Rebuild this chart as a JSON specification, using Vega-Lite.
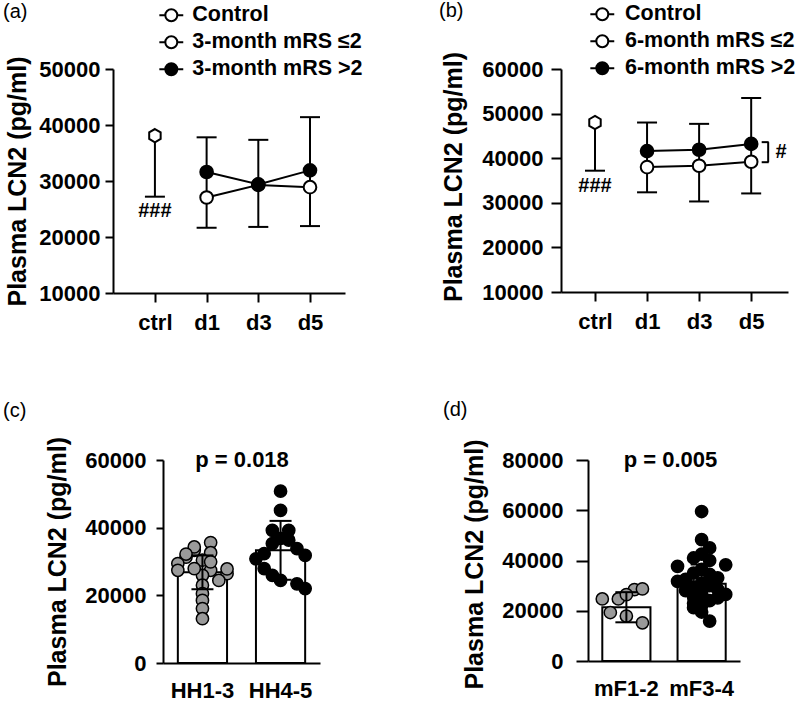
{
  "$schema": "https://vega.github.io/schema/vega-lite/v6.json",
  "background": "white",
  "padding": {"left": 3, "top": 0, "right": 0, "bottom": 0},
  "datasets": {
    "a_means": [
      {"group": "Control", "day": "ctrl", "mean": 38100, "err": 27200},
      {"group": "3-month mRS ≤2", "day": "d1", "mean": 27050, "err": 21650},
      {"group": "3-month mRS ≤2", "day": "d3", "mean": 29300, "err": 21800},
      {"group": "3-month mRS ≤2", "day": "d5", "mean": 28900, "err": 21950},
      {"group": "3-month mRS >2", "day": "d1", "mean": 31600, "err": 37800},
      {"group": "3-month mRS >2", "day": "d3", "mean": 29400, "err": 37350},
      {"group": "3-month mRS >2", "day": "d5", "mean": 31900, "err": 41400}
    ],
    "b_means": [
      {"group": "Control", "day": "ctrl", "mean": 48000, "err": 37200},
      {"group": "6-month mRS ≤2", "day": "d1", "mean": 38000, "err": 32350},
      {"group": "6-month mRS ≤2", "day": "d3", "mean": 38300, "err": 30300},
      {"group": "6-month mRS ≤2", "day": "d5", "mean": 39200, "err": 32100},
      {"group": "6-month mRS >2", "day": "d1", "mean": 41600, "err": 48000},
      {"group": "6-month mRS >2", "day": "d3", "mean": 41900, "err": 47700},
      {"group": "6-month mRS >2", "day": "d5", "mean": 43200, "err": 53500}
    ],
    "c_bars": [
      {"grade": "HH1-3", "mean": 26800, "lower": 21800, "upper": 31800},
      {"grade": "HH4-5", "mean": 33300, "lower": 24600, "upper": 42000}
    ],
    "c_points": [
      {"grade": "HH1-3", "value": 35600, "col": 1},
      {"grade": "HH1-3", "value": 32600, "col": 1},
      {"grade": "HH1-3", "value": 33300, "col": -1},
      {"grade": "HH1-3", "value": 31300, "col": -2},
      {"grade": "HH1-3", "value": 29400, "col": -3},
      {"grade": "HH1-3", "value": 27400, "col": -3},
      {"grade": "HH1-3", "value": 30400, "col": 0},
      {"grade": "HH1-3", "value": 27400, "col": 1},
      {"grade": "HH1-3", "value": 26400, "col": 3},
      {"grade": "HH1-3", "value": 24400, "col": 2},
      {"grade": "HH1-3", "value": 25900, "col": 0},
      {"grade": "HH1-3", "value": 27900, "col": -1},
      {"grade": "HH1-3", "value": 23000, "col": 0},
      {"grade": "HH1-3", "value": 20500, "col": 0},
      {"grade": "HH1-3", "value": 18500, "col": 0},
      {"grade": "HH1-3", "value": 16100, "col": 0},
      {"grade": "HH1-3", "value": 13100, "col": 0},
      {"grade": "HH1-3", "value": 34300, "col": -1},
      {"grade": "HH1-3", "value": 29900, "col": 1},
      {"grade": "HH1-3", "value": 27800, "col": 3},
      {"grade": "HH1-3", "value": 32200, "col": -2},
      {"grade": "HH4-5", "value": 50800, "col": 0},
      {"grade": "HH4-5", "value": 45100, "col": 0},
      {"grade": "HH4-5", "value": 39200, "col": -1},
      {"grade": "HH4-5", "value": 39200, "col": 1},
      {"grade": "HH4-5", "value": 35300, "col": -1},
      {"grade": "HH4-5", "value": 36300, "col": 1},
      {"grade": "HH4-5", "value": 33800, "col": 2},
      {"grade": "HH4-5", "value": 31800, "col": 3},
      {"grade": "HH4-5", "value": 30800, "col": -3},
      {"grade": "HH4-5", "value": 27900, "col": -2},
      {"grade": "HH4-5", "value": 25900, "col": -1},
      {"grade": "HH4-5", "value": 24400, "col": 0},
      {"grade": "HH4-5", "value": 23400, "col": 2},
      {"grade": "HH4-5", "value": 22000, "col": 3},
      {"grade": "HH4-5", "value": 32300, "col": -2},
      {"grade": "HH4-5", "value": 36800, "col": 0}
    ],
    "d_bars": [
      {"fisher": "mF1-2", "mean": 21400, "lower": 15400, "upper": 27400},
      {"fisher": "mF3-4", "mean": 30700, "lower": 23000, "upper": 38400}
    ],
    "d_points": [
      {"fisher": "mF1-2", "value": 24700, "col": -3},
      {"fisher": "mF1-2", "value": 24700, "col": -1},
      {"fisher": "mF1-2", "value": 28400, "col": 1},
      {"fisher": "mF1-2", "value": 28700, "col": 2},
      {"fisher": "mF1-2", "value": 19300, "col": -2},
      {"fisher": "mF1-2", "value": 17900, "col": 0},
      {"fisher": "mF1-2", "value": 15200, "col": 2},
      {"fisher": "mF1-2", "value": 26400, "col": 0},
      {"fisher": "mF3-4", "value": 59500, "col": 0},
      {"fisher": "mF3-4", "value": 48300, "col": 0},
      {"fisher": "mF3-4", "value": 45000, "col": 1},
      {"fisher": "mF3-4", "value": 42500, "col": 0},
      {"fisher": "mF3-4", "value": 41000, "col": -1},
      {"fisher": "mF3-4", "value": 40000, "col": 1},
      {"fisher": "mF3-4", "value": 38300, "col": 3},
      {"fisher": "mF3-4", "value": 37700, "col": -3},
      {"fisher": "mF3-4", "value": 36500, "col": 0},
      {"fisher": "mF3-4", "value": 35000, "col": -1},
      {"fisher": "mF3-4", "value": 34500, "col": 1},
      {"fisher": "mF3-4", "value": 33100, "col": 2},
      {"fisher": "mF3-4", "value": 32500, "col": -2},
      {"fisher": "mF3-4", "value": 31700, "col": -3},
      {"fisher": "mF3-4", "value": 31000, "col": 0},
      {"fisher": "mF3-4", "value": 30000, "col": 1},
      {"fisher": "mF3-4", "value": 29500, "col": -1},
      {"fisher": "mF3-4", "value": 28500, "col": 2},
      {"fisher": "mF3-4", "value": 28000, "col": -2},
      {"fisher": "mF3-4", "value": 27000, "col": 0},
      {"fisher": "mF3-4", "value": 26500, "col": 3},
      {"fisher": "mF3-4", "value": 25500, "col": -1},
      {"fisher": "mF3-4", "value": 25100, "col": 2},
      {"fisher": "mF3-4", "value": 24000, "col": 1},
      {"fisher": "mF3-4", "value": 23000, "col": -1},
      {"fisher": "mF3-4", "value": 22000, "col": 0},
      {"fisher": "mF3-4", "value": 21200, "col": -1},
      {"fisher": "mF3-4", "value": 19500, "col": 0},
      {"fisher": "mF3-4", "value": 15900, "col": 1}
    ]
  },
  "columns": 1,
  "align": "none",
  "spacing": 66,
  "resolve": {"scale": {"fill": "independent", "shape": "independent", "xOffset": "independent"}, "legend": {"fill": "independent"}},
  "concat": [
    {
      "spacing": 75,
      "resolve": {"scale": {"fill": "independent", "shape": "independent", "xOffset": "independent"}, "legend": {"fill": "independent"}},
      "hconcat": [
        {
          "width": 232,
          "height": 224,
          "title": {"text": "(a)", "dx": -110, "dy": 31, "offset": 0, "baseline": "middle"},
          "data": {"name": "a_means"},
          "encoding": {
            "x": {"field": "day", "type": "ordinal",
              "scale": {"type": "point", "domain": ["ctrl", "d1", "d3", "d5"], "padding": 0.744, "align": 0.545},
              "axis": {"title": null, "labelAngle": 0, "tickSize": 9, "labelPadding": 10}}
          },
          "layer": [
            {
              "mark": {"type": "rule", "color": "black", "strokeWidth": 2},
              "encoding": {
                "y": {"aggregate": "min", "field": "mean", "type": "quantitative", "title": "Plasma LCN2 (pg/ml)",
                  "scale": {"domain": [10000, 50000], "nice": false},
                  "axis": {"values": [10000, 20000, 30000, 40000, 50000], "format": "d", "tickSize": 8, "labelPadding": 5, "titleX": -95.7, "titleY": 112, "titleBaseline": "middle"}},
                "y2": {"aggregate": "max", "field": "mean"}
              }
            },
            {
              "mark": {"type": "rule", "color": "black", "strokeWidth": 2},
              "encoding": {
                "y": {"field": "mean", "type": "quantitative", "title": "Plasma LCN2 (pg/ml)"},
                "y2": {"field": "err"}
              }
            },
            {
              "mark": {"type": "tick", "color": "black", "size": 20, "thickness": 2, "opacity": 1},
              "encoding": {"y": {"field": "err", "type": "quantitative", "title": "Plasma LCN2 (pg/ml)"}}
            },
            {
              "transform": [{"filter": "datum.group != 'Control'"}],
              "mark": {"type": "line", "color": "black", "strokeWidth": 2},
              "encoding": {
                "y": {"field": "mean", "type": "quantitative", "title": "Plasma LCN2 (pg/ml)"},
                "detail": {"field": "group"}
              }
            },
            {
              "transform": [{"filter": "datum.group == 'Control'"}],
              "mark": {"type": "point", "filled": true, "shape": "M0,-1L0.866,-0.5L0.866,0.5L0,1L-0.866,0.5L-0.866,-0.5Z", "stroke": "black", "strokeWidth": 2, "size": 175, "opacity": 1},
              "encoding": {
                "y": {"field": "mean", "type": "quantitative", "title": "Plasma LCN2 (pg/ml)"},
                "fill": {"field": "group", "type": "nominal",
                  "scale": {"domain": ["Control", "3-month mRS ≤2", "3-month mRS >2"], "range": ["white", "white", "black"]},
                  "legend": {"orient": "none", "legendX": 44.3, "legendY": -67.7, "title": null, "labelOffset": 7, "rowPadding": 2,
                    "symbolType": "M-0.92,0L-0.46,0M0.46,0L0.92,0M0.46,0A0.46,0.46,0,1,1,-0.46,0A0.46,0.46,0,1,1,0.46,0Z"}}
              }
            },
            {
              "transform": [{"filter": "datum.group != 'Control'"}],
              "mark": {"type": "point", "filled": true, "shape": "circle", "stroke": "black", "strokeWidth": 2, "size": 160, "opacity": 1},
              "encoding": {
                "y": {"field": "mean", "type": "quantitative", "title": "Plasma LCN2 (pg/ml)"},
                "fill": {"field": "group", "type": "nominal",
                  "scale": {"domain": ["Control", "3-month mRS ≤2", "3-month mRS >2"], "range": ["white", "white", "black"]},
                  "legend": {"orient": "none", "legendX": 44.3, "legendY": -67.7, "title": null, "labelOffset": 7, "rowPadding": 2,
                    "symbolType": "M-0.92,0L-0.46,0M0.46,0L0.92,0M0.46,0A0.46,0.46,0,1,1,-0.46,0A0.46,0.46,0,1,1,0.46,0Z"}}
              }
            },
            {
              "data": {"values": [{"day": "ctrl", "y": 24600, "label": "###"}]},
              "mark": {"type": "text", "fontSize": 20, "fontWeight": "bold", "baseline": "middle", "color": "black"},
              "encoding": {
                "y": {"field": "y", "type": "quantitative", "title": "Plasma LCN2 (pg/ml)"},
                "text": {"field": "label"}
              }
            }
          ]
        },
        {
          "width": 227,
          "height": 223,
          "title": {"text": "(b)", "dx": -122, "dy": 31, "offset": 0, "baseline": "middle"},
          "data": {"name": "b_means"},
          "encoding": {
            "x": {"field": "day", "type": "ordinal",
              "scale": {"type": "point", "domain": ["ctrl", "d1", "d3", "d5"], "padding": 0.68, "align": 0.48},
              "axis": {"title": null, "labelAngle": 0, "tickSize": 9, "labelPadding": 10}}
          },
          "layer": [
            {
              "mark": {"type": "rule", "color": "black", "strokeWidth": 2},
              "encoding": {
                "y": {"aggregate": "min", "field": "mean", "type": "quantitative", "title": "Plasma LCN2 (pg/ml)",
                  "scale": {"domain": [10000, 60000], "nice": false},
                  "axis": {"values": [10000, 20000, 30000, 40000, 50000, 60000], "format": "d", "tickSize": 10, "labelPadding": 8, "titleX": -107.7, "titleY": 107.5, "titleBaseline": "middle"}},
                "y2": {"aggregate": "max", "field": "mean"}
              }
            },
            {
              "mark": {"type": "rule", "color": "black", "strokeWidth": 2},
              "encoding": {
                "y": {"field": "mean", "type": "quantitative", "title": "Plasma LCN2 (pg/ml)"},
                "y2": {"field": "err"}
              }
            },
            {
              "mark": {"type": "tick", "color": "black", "size": 20, "thickness": 2, "opacity": 1},
              "encoding": {"y": {"field": "err", "type": "quantitative", "title": "Plasma LCN2 (pg/ml)"}}
            },
            {
              "transform": [{"filter": "datum.group != 'Control'"}],
              "mark": {"type": "line", "color": "black", "strokeWidth": 2},
              "encoding": {
                "y": {"field": "mean", "type": "quantitative", "title": "Plasma LCN2 (pg/ml)"},
                "detail": {"field": "group"}
              }
            },
            {
              "transform": [{"filter": "datum.group == 'Control'"}],
              "mark": {"type": "point", "filled": true, "shape": "M0,-1L0.866,-0.5L0.866,0.5L0,1L-0.866,0.5L-0.866,-0.5Z", "stroke": "black", "strokeWidth": 2, "size": 175, "opacity": 1},
              "encoding": {
                "y": {"field": "mean", "type": "quantitative", "title": "Plasma LCN2 (pg/ml)"},
                "fill": {"field": "group", "type": "nominal",
                  "scale": {"domain": ["Control", "6-month mRS ≤2", "6-month mRS >2"], "range": ["white", "white", "black"]},
                  "legend": {"orient": "none", "legendX": 27.3, "legendY": -68.7, "title": null, "labelOffset": 8.7, "rowPadding": 2,
                    "symbolType": "M-0.92,0L-0.46,0M0.46,0L0.92,0M0.46,0A0.46,0.46,0,1,1,-0.46,0A0.46,0.46,0,1,1,0.46,0Z"}}
              }
            },
            {
              "transform": [{"filter": "datum.group != 'Control'"}],
              "mark": {"type": "point", "filled": true, "shape": "circle", "stroke": "black", "strokeWidth": 2, "size": 160, "opacity": 1},
              "encoding": {
                "y": {"field": "mean", "type": "quantitative", "title": "Plasma LCN2 (pg/ml)"},
                "fill": {"field": "group", "type": "nominal",
                  "scale": {"domain": ["Control", "6-month mRS ≤2", "6-month mRS >2"], "range": ["white", "white", "black"]},
                  "legend": {"orient": "none", "legendX": 27.3, "legendY": -68.7, "title": null, "labelOffset": 8.7, "rowPadding": 2,
                    "symbolType": "M-0.92,0L-0.46,0M0.46,0L0.92,0M0.46,0A0.46,0.46,0,1,1,-0.46,0A0.46,0.46,0,1,1,0.46,0Z"}}
              }
            },
            {
              "data": {"values": [{"day": "ctrl", "y": 33700, "label": "###"}]},
              "mark": {"type": "text", "fontSize": 20, "fontWeight": "bold", "baseline": "middle", "color": "black"},
              "encoding": {
                "y": {"field": "y", "type": "quantitative", "title": "Plasma LCN2 (pg/ml)"},
                "text": {"field": "label"}
              }
            },
            {
              "data": {"values": [{"day": "d5", "y": 41400, "label": "#"}]},
              "mark": {"type": "text", "fontSize": 20, "fontWeight": "bold", "baseline": "middle", "color": "black", "dx": 30},
              "encoding": {
                "y": {"field": "y", "type": "quantitative", "title": "Plasma LCN2 (pg/ml)"},
                "text": {"field": "label"}
              }
            },
            {
              "data": {"values": [{"day": "d5", "low": 39100, "high": 43600}]},
              "mark": {"type": "rule", "color": "black", "strokeWidth": 2, "xOffset": 17},
              "encoding": {
                "y": {"field": "low", "type": "quantitative", "title": "Plasma LCN2 (pg/ml)"},
                "y2": {"field": "high"}
              }
            },
            {
              "data": {"values": [{"day": "d5", "end": 39100}, {"day": "d5", "end": 43600}]},
              "mark": {"type": "tick", "color": "black", "size": 7, "thickness": 2, "opacity": 1, "xOffset": 14},
              "encoding": {
                "y": {"field": "end", "type": "quantitative", "title": "Plasma LCN2 (pg/ml)"}
              }
            }
          ]
        }
      ]
    },
    {
      "spacing": 123,
      "resolve": {"scale": {"fill": "independent", "shape": "independent", "xOffset": "independent"}, "legend": {"fill": "independent"}},
      "hconcat": [
        {
          "width": 207,
          "height": 203,
          "title": {"text": "(c)", "dx": -110, "dy": -5, "offset": 0, "baseline": "middle"},
          "resolve": {"scale": {"xOffset": "independent"}},
          "encoding": {
            "x": {"field": "grade", "type": "nominal",
              "scale": {"domain": ["HH1-3", "HH4-5"], "range": [50, 207], "paddingInner": 0.37, "paddingOuter": 0.19},
              "axis": {"title": null, "labelAngle": 0, "ticks": false, "labelPadding": 17}}
          },
          "layer": [
            {
              "data": {"name": "c_bars"},
              "mark": {"type": "bar", "fill": "white", "stroke": "black", "strokeWidth": 2},
              "encoding": {
                "y": {"field": "mean", "type": "quantitative", "title": "Plasma LCN2 (pg/ml)",
                  "scale": {"domain": [0, 60000], "nice": false},
                  "axis": {"offset": -50, "values": [0, 20000, 40000, 60000], "format": "d", "tickSize": 7, "labelPadding": 10, "titleX": -106, "titleY": 101.5, "titleBaseline": "middle"}}
              }
            },
            {
              "data": {"name": "c_points"},
              "mark": {"type": "point", "filled": true, "stroke": "black", "strokeWidth": 1.5, "size": 150, "opacity": 1},
              "encoding": {
                "y": {"field": "value", "type": "quantitative", "title": "Plasma LCN2 (pg/ml)"},
                "xOffset": {"field": "col", "type": "ordinal", "scale": {"domain": [-3, -2, -1, 0, 1, 2, 3], "paddingInner": 0, "paddingOuter": 0}},
                "fill": {"field": "grade", "type": "nominal", "legend": null,
                  "scale": {"domain": ["HH1-3", "HH4-5"], "range": ["#9a9a9a", "black"]}}
              }
            },
            {
              "data": {"name": "c_bars"},
              "mark": {"type": "rule", "color": "black", "strokeWidth": 2},
              "encoding": {
                "y": {"field": "lower", "type": "quantitative", "title": "Plasma LCN2 (pg/ml)"},
                "y2": {"field": "upper"}
              }
            },
            {
              "data": {"name": "c_bars"},
              "mark": {"type": "tick", "color": "black", "size": 22, "thickness": 2, "opacity": 1},
              "encoding": {"y": {"field": "lower", "type": "quantitative", "title": "Plasma LCN2 (pg/ml)"}}
            },
            {
              "data": {"name": "c_bars"},
              "mark": {"type": "tick", "color": "black", "size": 22, "thickness": 2, "opacity": 1},
              "encoding": {"y": {"field": "upper", "type": "quantitative", "title": "Plasma LCN2 (pg/ml)"}}
            },
            {
              "data": {"values": [{"label": "p = 0.018"}]},
              "mark": {"type": "text", "fontSize": 22, "fontWeight": "bold", "baseline": "middle", "color": "black"},
              "encoding": {
                "x": {"datum": "HH1-3", "type": "nominal", "bandPosition": 1.305},
                "y": {"datum": 60000, "type": "quantitative"},
                "text": {"field": "label"}
              }
            }
          ]
        },
        {
          "width": 152,
          "height": 201,
          "title": {"text": "(d)", "dx": -145, "dy": -9, "offset": 0, "baseline": "middle"},
          "resolve": {"scale": {"xOffset": "independent"}},
          "encoding": {
            "x": {"field": "fisher", "type": "nominal",
              "scale": {"domain": ["mF1-2", "mF3-4"], "paddingInner": 0.36, "paddingOuter": 0.19},
              "axis": {"title": null, "labelAngle": 0, "ticks": false, "labelPadding": 17}}
          },
          "layer": [
            {
              "data": {"name": "d_bars"},
              "mark": {"type": "bar", "fill": "white", "stroke": "black", "strokeWidth": 2},
              "encoding": {
                "y": {"field": "mean", "type": "quantitative", "title": "Plasma LCN2 (pg/ml)",
                  "scale": {"domain": [0, 80000], "nice": false},
                  "axis": {"values": [0, 20000, 40000, 60000, 80000], "format": "d", "tickSize": 12, "labelPadding": 13, "titleX": -114, "titleY": 104, "titleBaseline": "middle"}}
              }
            },
            {
              "data": {"name": "d_points"},
              "mark": {"type": "point", "filled": true, "stroke": "black", "strokeWidth": 1.5, "size": 150, "opacity": 1},
              "encoding": {
                "y": {"field": "value", "type": "quantitative", "title": "Plasma LCN2 (pg/ml)"},
                "xOffset": {"field": "col", "type": "ordinal", "scale": {"domain": [-3, -2, -1, 0, 1, 2, 3], "paddingInner": 0, "paddingOuter": 0}},
                "fill": {"field": "fisher", "type": "nominal", "legend": null,
                  "scale": {"domain": ["mF1-2", "mF3-4"], "range": ["#9a9a9a", "black"]}}
              }
            },
            {
              "data": {"name": "d_bars"},
              "mark": {"type": "rule", "color": "black", "strokeWidth": 2},
              "encoding": {
                "y": {"field": "lower", "type": "quantitative", "title": "Plasma LCN2 (pg/ml)"},
                "y2": {"field": "upper"}
              }
            },
            {
              "data": {"name": "d_bars"},
              "mark": {"type": "tick", "color": "black", "size": 22, "thickness": 2, "opacity": 1},
              "encoding": {"y": {"field": "lower", "type": "quantitative", "title": "Plasma LCN2 (pg/ml)"}}
            },
            {
              "data": {"name": "d_bars"},
              "mark": {"type": "tick", "color": "black", "size": 22, "thickness": 2, "opacity": 1},
              "encoding": {"y": {"field": "upper", "type": "quantitative", "title": "Plasma LCN2 (pg/ml)"}}
            },
            {
              "data": {"values": [{"label": "p = 0.005"}]},
              "mark": {"type": "text", "fontSize": 22, "fontWeight": "bold", "baseline": "middle", "color": "black"},
              "encoding": {
                "x": {"datum": "mF1-2", "type": "nominal", "bandPosition": 1.417},
                "y": {"datum": 80000, "type": "quantitative"},
                "text": {"field": "label"}
              }
            }
          ]
        }
      ]
    }
  ],
  "config": {
    "font": "Liberation Sans",
    "view": {"stroke": null},
    "axis": {"domainColor": "black", "domainWidth": 2, "tickColor": "black", "tickWidth": 2, "labelColor": "black", "labelFont": "Liberation Sans", "labelFontSize": 22, "labelFontWeight": "bold", "titleFont": "Liberation Sans", "titleFontSize": 25, "titleFontWeight": "bold", "titleColor": "black", "grid": false, "labelOverlap": false},
    "title": {"font": "Liberation Sans", "fontSize": 20, "fontWeight": "normal", "color": "black", "anchor": "start", "frame": "group"},
    "legend": {"labelFont": "Liberation Sans", "labelFontSize": 21.5, "labelFontWeight": "bold", "labelColor": "black", "symbolSize": 676, "symbolStrokeColor": "black", "symbolStrokeWidth": 2, "padding": 0, "rowPadding": 2, "labelLimit": 500}
  }
}
